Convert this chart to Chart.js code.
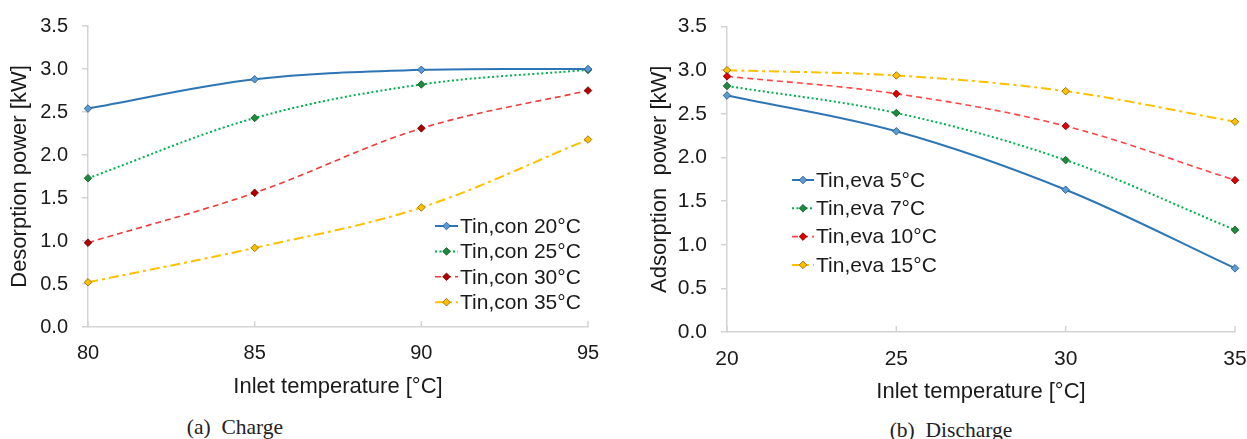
<!DOCTYPE html>
<html>
<head>
<meta charset="utf-8">
<script src="https://cdn.jsdelivr.net/npm/chart.js@4.4.1/dist/chart.umd.min.js"></script>
<style>
body { margin: 0; background: #fff; width: 1247px; height: 439px; overflow: hidden; position: relative; }
.box { position: absolute; top: 0; }
.cap { position: absolute; font-family: "Liberation Serif", serif; font-size: 21.5px; color: #222; transform: translate(-50%, -50%); white-space: pre; }
</style>
</head>
<body>
<div class="box" style="left:0"><canvas id="charge" width="620" height="400"></canvas></div>
<div class="box" style="left:620px"><canvas id="discharge" width="627" height="405"></canvas></div>
<div class="cap" style="left:235px;top:427px">(a)  Charge</div>
<div class="cap" style="left:951px;top:430px">(b)  Discharge</div>
<script>
// 充电数据
var chargeTemps = ["80", "85", "90", "95"];
var con20 = [2.54, 2.88, 2.99, 3.00];
var con25 = [1.73, 2.43, 2.82, 2.99];
var con30 = [0.98, 1.56, 2.31, 2.75];
var con35 = [0.52, 0.92, 1.39, 2.18];

// 放电数据
var dischargeTemps = ["20", "25", "30", "35"];
var eva5 = [2.71, 2.30, 1.63, 0.73];
var eva7 = [2.82, 2.51, 1.97, 1.17];
var eva10 = [2.93, 2.73, 2.36, 1.74];
var eva15 = [3.00, 2.94, 2.76, 2.41];

// y轴刻度
var powerTicks = [0.0, 0.5, 1.0, 1.5, 2.0, 2.5, 3.0, 3.5];

var axisColor = '#d3d3d3';
var textColor = '#1a1a1a';
Chart.defaults.font.family = '"Liberation Sans", Arial, sans-serif';
Chart.defaults.color = textColor;

//菱形标记
function diamond(ctx, x, y, r, fill, stroke) {
    ctx.beginPath();
    ctx.moveTo(x, y - r);
    ctx.lineTo(x + r, y);
    ctx.lineTo(x, y + r);
    ctx.lineTo(x - r, y);
    ctx.closePath();
    ctx.fillStyle = fill;
    ctx.fill();
    ctx.lineWidth = 0.8;
    ctx.strokeStyle = stroke;
    ctx.stroke();
}

//图内图例（线型 + 标记）
var lineLegend = {
    id: 'lineLegend',
    afterDraw: function(chart, args, opts) {
        var ctx = chart.ctx;
        ctx.save();
        chart.data.datasets.forEach(function(ds, i) {
            var x = opts.x;
            var y = opts.y + i * opts.gap;
            ctx.strokeStyle = ds.borderColor;
            ctx.lineWidth = ds.borderWidth;
            ctx.setLineDash(ds.borderDash || []);
            ctx.beginPath();
            ctx.moveTo(x, y);
            ctx.lineTo(x + opts.len, y);
            ctx.stroke();
            ctx.setLineDash([]);
            diamond(ctx, x + opts.len / 2, y, ds.pointRadius, ds.pointBackgroundColor, ds.pointBorderColor);
            ctx.font = opts.size + 'px "Liberation Sans", Arial, sans-serif';
            ctx.textBaseline = 'middle';
            ctx.fillStyle = textColor;
            ctx.fillText(ds.label, x + opts.len + 2, y + 1);
        });
        ctx.restore();
    }
};

//x轴向内的刻度线
var innerTicks = {
    id: 'innerTicks',
    afterDraw: function(chart) {
        var xs = chart.scales.x;
        var area = chart.chartArea;
        var ctx = chart.ctx;
        ctx.save();
        ctx.strokeStyle = axisColor;
        ctx.lineWidth = 1.5;
        xs.ticks.forEach(function(t, i) {
            var px = xs.getPixelForTick(i);
            ctx.beginPath();
            ctx.moveTo(px, area.bottom);
            ctx.lineTo(px, area.bottom - 6);
            ctx.stroke();
        });
        ctx.restore();
    }
};

function series(label, data, line, fill, edge, width, dash) {
    return {
        label: label,
        data: data,
        borderColor: line,
        borderWidth: width,
        borderDash: dash,
        pointStyle: 'rectRot',
        pointRadius: 3.8,
        pointBackgroundColor: fill,
        pointBorderColor: edge,
        pointBorderWidth: 0.8,
        tension: 0.35,
        clip: false
    };
}

function makeChart(id, labels, datasets, cfg) {
    return new Chart(document.getElementById(id), {
        type: 'line',
        data: { labels: labels, datasets: datasets },
        plugins: [innerTicks, lineLegend],
        options: {
            responsive: false,
            animation: false,
            layout: { padding: { top: cfg.top, right: cfg.right, bottom: 0, left: 0 } },
            plugins: {
                legend: { display: false },
                tooltip: { enabled: false },
                lineLegend: cfg.legend
            },
            scales: {
                x: {
                    type: 'category',
                    offset: false,
                    // 透明刻度线只用来留出标签间距
                    grid: { drawOnChartArea: false, drawTicks: true, tickLength: cfg.xPad, color: 'rgba(0,0,0,0)' },
                    border: { color: axisColor, width: 1.5 },
                    ticks: { font: { size: cfg.tickSize }, padding: 0, maxRotation: 0 },
                    title: { display: true, text: 'Inlet temperature [°C]', font: { size: 22 }, padding: { top: cfg.xTitlePad, bottom: 0 } },
                    afterFit: function(scale) { scale.height = cfg.xHeight; }
                },
                y: {
                    min: 0,
                    max: 3.5,
                    grid: { drawOnChartArea: false, drawTicks: true, tickLength: 6, color: axisColor, lineWidth: 1.5 },
                    border: { color: axisColor, width: 1.5 },
                    ticks: {
                        font: { size: cfg.tickSize },
                        padding: 14,
                        callback: function(v) { return Number(v).toFixed(1); }
                    },
                    afterBuildTicks: function(scale) {
                        scale.ticks = powerTicks.map(function(v) { return { value: v }; });
                    },
                    title: { display: true, text: cfg.yTitle, font: { size: 22 }, padding: { top: cfg.yTitlePad, bottom: 0 } },
                    afterFit: function(scale) { scale.width = cfg.yWidth; }
                }
            }
        }
    });
}

makeChart('charge', chargeTemps, [
    series('Tin,con 20°C', con20, '#2e75b6', '#5b9bd5', '#1f4e79', 2, []),
    series('Tin,con 25°C', con25, '#00b050', '#1e8a3c', '#0b4d1e', 2, [2, 2.5]),
    series('Tin,con 30°C', con30, '#f03a3a', '#b00000', '#600000', 1.6, [6, 4]),
    series('Tin,con 35°C', con35, '#ffc000', '#ffc000', '#7f6000', 2, [10, 4, 3, 4])
], {
    top: 24, right: 32, tickSize: 20, xPad: 14, xTitlePad: 5, xHeight: 73,
    yTitle: 'Desorption power [kW]', yTitlePad: 7, yWidth: 88,
    legend: { x: 435, y: 226, gap: 25.4, len: 23, size: 21 }
});

makeChart('discharge', dischargeTemps, [
    series('Tin,eva 5°C', eva5, '#2e75b6', '#5b9bd5', '#1f4e79', 2, []),
    series('Tin,eva 7°C', eva7, '#00b050', '#1e8a3c', '#0b4d1e', 2, [2, 2.5]),
    series('Tin,eva 10°C', eva10, '#ff4545', '#e00000', '#700000', 1.6, [6, 4]),
    series('Tin,eva 15°C', eva15, '#ffc000', '#ffc000', '#7f6000', 2, [10, 4, 3, 4])
], {
    top: 20, right: 12, tickSize: 21, xPad: 15, xTitlePad: 8, xHeight: 73,
    yTitle: 'Adsorption  power [kW]', yTitlePad: 27, yWidth: 107,
    legend: { x: 172, y: 180, gap: 28.3, len: 22, size: 21 }
});
</script>
</body>
</html>
